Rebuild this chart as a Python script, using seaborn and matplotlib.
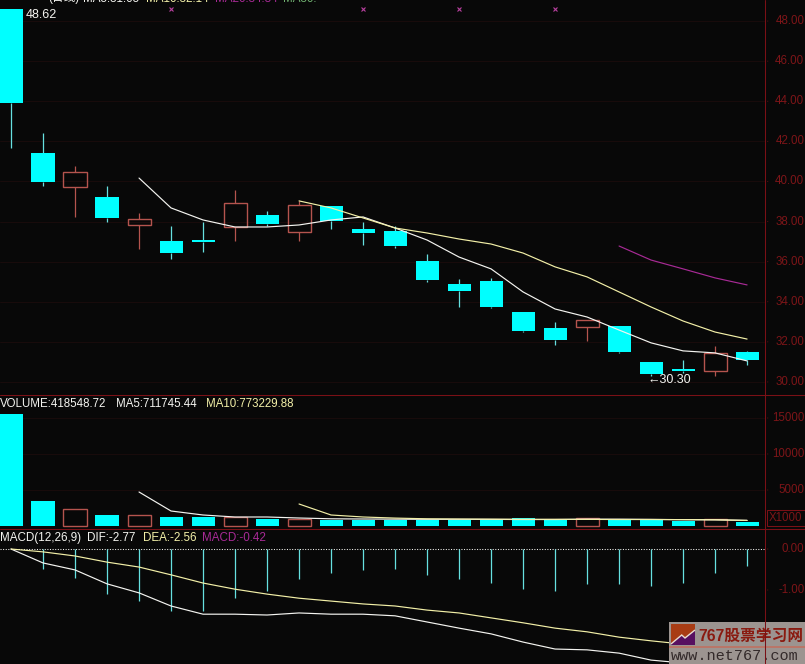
import matplotlib
matplotlib.use("Agg")
import matplotlib.pyplot as plt
from matplotlib.lines import Line2D
from matplotlib.patches import Polygon, Rectangle
import numpy as np
import pandas as pd
import seaborn as sns

# candles, oldest first
opens = [48.62, 41.42, 39.70, 39.23, 37.85, 37.03, 37.08, 37.73, 38.33, 37.46, 38.78, 37.63,
         37.53, 36.03, 34.89, 35.04, 33.49, 32.69, 32.74, 32.79, 31.00, 30.60, 30.55, 31.50]
closes = [43.90, 39.98, 40.45, 38.18, 38.15, 36.43, 36.98, 38.93, 37.88, 38.83, 38.03, 37.43,
          36.78, 35.09, 34.54, 33.74, 32.54, 32.09, 33.09, 31.50, 30.40, 30.55, 31.45, 31.10]
highs = [48.62, 42.42, 40.77, 39.78, 38.43, 37.78, 37.98, 39.58, 38.53, 39.03, 38.78, 37.98,
         37.78, 36.38, 35.14, 35.19, 33.49, 32.99, 33.09, 32.79, 31.00, 31.10, 31.80, 31.55]
lows = [41.67, 39.78, 38.23, 37.98, 36.63, 36.13, 36.48, 37.03, 37.78, 37.03, 37.63, 36.83,
        36.68, 34.99, 33.74, 33.69, 32.49, 31.85, 32.04, 31.45, 30.30, 30.45, 30.30, 30.85]

ma5 = [40.17, 38.68, 38.08, 37.73, 37.73, 37.83, 38.08, 38.23, 37.68, 37.08,
       36.23, 35.64, 34.49, 33.64, 33.24, 32.59, 31.95, 31.55, 31.45, 31.05]
ma10 = [39.03, 38.68, 38.18, 37.68, 37.43, 37.13, 36.88, 36.43, 35.74, 35.24,
        34.49, 33.74, 33.04, 32.49, 32.14]
ma20 = [36.78, 36.08, 35.64, 35.19, 34.84]

volume = [15560, 3500, 2380, 1540, 1540, 1260, 1260, 1260, 980, 980, 840, 840,
          840, 840, 840, 840, 1050, 840, 1050, 840, 840, 700, 980, 520]
vol_ma5 = [4722, 2083, 1528, 1250, 1250, 1111, 1000, 972, 950, 930,
           930, 920, 900, 900, 950, 950, 920, 880, 860, 780]
vol_ma10 = [3055, 1528, 1250, 1100, 1000, 970, 950, 930, 930, 920,
            900, 900, 880, 860, 775]

macd = [0.0, -0.49, -0.71, -1.10, -1.27, -1.51, -1.51, -1.20, -1.02, -0.73, -0.59, -0.51,
        -0.49, -0.63, -0.73, -0.83, -0.98, -1.02, -0.85, -0.85, -0.90, -0.83, -0.59, -0.42]
dif = [0.0, -0.34, -0.51, -0.85, -1.07, -1.39, -1.59, -1.59, -1.61, -1.56, -1.59, -1.59,
       -1.63, -1.78, -1.93, -2.07, -2.27, -2.44, -2.46, -2.54, -2.71, -2.78, -2.76, -2.77]
dea = [0.0, -0.07, -0.17, -0.32, -0.44, -0.63, -0.83, -0.98, -1.10, -1.20, -1.27, -1.34,
       -1.39, -1.49, -1.56, -1.68, -1.80, -1.93, -2.02, -2.15, -2.24, -2.32, -2.44, -2.56]

price_ticks = [30, 32, 34, 36, 38, 40, 42, 44, 46, 48]
vol_ticks = [5000, 10000, 15000]
macd_ticks = [0, -1]
signal_marks = [5, 11, 14, 17]

BG = "#080808"
CYAN = "#00ffff"
WICK = "#66e0e0"
RED = "#b5544e"
AXIS = "#7a1016"
GRID = "#180b0b"
LABEL = "#7d1518"
WHITE = "#f4f4f0"
YELLOW = "#f3f0a8"
PURPLE = "#a82a96"
THIN = 0.75

W, H = 805, 664
AXIS_X = 765

sns.set_style("dark", {"axes.facecolor": BG, "figure.facecolor": BG})
plt.rcParams["font.family"] = ["Liberation Sans", "Noto Sans CJK SC", "DejaVu Sans"]

fig = plt.figure(figsize=(W / 100, H / 100), dpi=100)


def panel(top, bottom, ylim):
    ax = fig.add_axes([0, 1 - bottom / H, AXIS_X / W, (bottom - top) / H])
    ax.set_xlim(-0.344, 23.56)
    ax.set_ylim(*ylim)
    ax.set_xticks([])
    ax.set_yticks([])
    for spine in ax.spines.values():
        spine.set_visible(False)
    return ax


def right_labels(ax, ticks, fmt, grid=True):
    for t in ticks:
        if grid:
            ax.axhline(t, color=GRID, lw=THIN, zorder=0)
        ax.annotate(fmt(t), xy=(1, t), xycoords=("axes fraction", "data"), xytext=(28.3, 0),
                    textcoords="offset points", ha="right", va="center", color=LABEL,
                    fontsize=8.3, annotation_clip=False)
        ax.annotate("", xy=(1, t), xycoords=("axes fraction", "data"), xytext=(4, 0),
                    textcoords="offset points", annotation_clip=False,
                    arrowprops=dict(arrowstyle="-", color=AXIS, lw=THIN))


def ma_line(ax, values, color):
    start = len(opens) - len(values)
    df = pd.DataFrame({"i": np.arange(start, len(opens)), "v": values})
    sns.lineplot(data=df, x="i", y="v", ax=ax, color=color, lw=THIN + 0.1, zorder=4)
    ax.set_xlabel("")
    ax.set_ylabel("")


def header(px, py, text, color, size=8.4):
    fig.text(px / W, 1 - py / H, text, color=color, fontsize=size, va="center", ha="left")


x = np.arange(len(opens))
up = np.array(closes) >= np.array(opens)

# price panel
ax1 = panel(0, 395, (29.35, 49.05))
right_labels(ax1, price_ticks, lambda t: f"{t:.2f}")
for i in x:
    low_body, high_body = sorted((opens[i], closes[i]))
    color = RED if up[i] else WICK
    ax1.vlines(i, lows[i], low_body, color=color, lw=0.9, zorder=2)
    ax1.vlines(i, high_body, highs[i], color=color, lw=0.9, zorder=2)
    if up[i]:
        ax1.add_patch(Rectangle((i - 0.36, low_body), 0.72, high_body - low_body,
                                fc="none", ec=RED, lw=1, zorder=3))
    else:
        ax1.add_patch(Rectangle((i - 0.36, low_body), 0.72, max(high_body - low_body, 0.1),
                                fc=CYAN, ec="none", zorder=3))
ma_line(ax1, ma5, WHITE)
ma_line(ax1, ma10, YELLOW)
ma_line(ax1, ma20, PURPLE)
ax1.set_xlim(-0.344, 23.56)
ax1.set_ylim(29.35, 49.05)
ax1.plot(signal_marks, [highs[0]] * len(signal_marks), ls="none", marker="x", ms=3.2, mew=0.8, color="#b8409f")
ax1.text(0.47, 48.30, "48.62", color=WHITE, fontsize=9, ha="left", va="center")
ax1.text(19.88, 30.10, "←30.30", color=WHITE, fontsize=9, ha="left", va="center")

# cropped header strip, only the feet of the glyphs show in the reference
fig.text(48 / W, 1 - 1.5 / H, "(日线)", color=WHITE, fontsize=8.4, va="baseline", ha="left")
fig.text(83 / W, 1 - 1.5 / H, "MA5:31.05", color=WHITE, fontsize=8.4, va="baseline", ha="left")
fig.text(146 / W, 1 - 1.5 / H, "MA10:32.14", color=YELLOW, fontsize=8.4, va="baseline", ha="left")
fig.text(215 / W, 1 - 1.5 / H, "MA20:34.84", color=PURPLE, fontsize=8.4, va="baseline", ha="left")
fig.text(283 / W, 1 - 1.5 / H, "MA30:", color="#6fae6f", fontsize=8.4, va="baseline", ha="left")

# volume panel
ax2 = panel(395, 529, (-417, 18194))
right_labels(ax2, vol_ticks, lambda t: f"{t}")
for i in x:
    if up[i]:
        ax2.add_patch(Rectangle((i - 0.36, 0), 0.72, volume[i], fc="none", ec=RED, lw=1, zorder=3))
    else:
        ax2.bar(i, volume[i], width=0.72, color=CYAN, edgecolor="none", zorder=3)
ma_line(ax2, vol_ma5, WHITE)
ma_line(ax2, vol_ma10, YELLOW)
ax2.set_xlim(-0.344, 23.56)
ax2.set_ylim(-417, 18194)
header(0, 404, "VOLUME:418548.72", WHITE, 8.3)
header(116, 404, "MA5:711745.44", WHITE, 8.3)
header(206, 404, "MA10:773229.88", YELLOW, 8.3)
fig.add_artist(Rectangle((767 / W, 1 - 526 / H), 38 / W, 16 / H, fc="none", ec=AXIS, lw=THIN,
                         transform=fig.transFigure))
fig.text(769 / W, 1 - 518 / H, "X1000", color=LABEL, fontsize=8.3, va="center", ha="left")

# macd panel
ax3 = panel(529, 664, (-2.805, 0.488))
right_labels(ax3, macd_ticks, lambda t: f"{t:.2f}", grid=False)
ax3.axhline(0, color=WHITE, lw=THIN, ls=(0, (1, 1.5)), zorder=2)
ax3.vlines(x[1:], macd[1:], 0, color=WICK, lw=0.9, zorder=3)
ma_line(ax3, dif, WHITE)
ma_line(ax3, dea, YELLOW)
ax3.set_xlim(-0.344, 23.56)
ax3.set_ylim(-2.805, 0.488)
header(0, 538, "MACD(12,26,9)", WHITE)
header(87, 538, "DIF:-2.77", WHITE)
header(143, 538, "DEA:-2.56", YELLOW)
header(202, 538, "MACD:-0.42", PURPLE)

# frame lines run across the label column too
for py in (395, 529):
    fig.add_artist(Line2D([0, 1], [1 - py / H] * 2, color=AXIS, lw=THIN))
fig.add_artist(Line2D([AXIS_X / W] * 2, [0, 1], color=AXIS, lw=THIN))

# watermark
box = fig.add_axes([669 / W, 0, 136 / W, 42 / H])
box.set_facecolor("#9c9490")
box.set_xticks([])
box.set_yticks([])
for spine in box.spines.values():
    spine.set_visible(False)
box.set_xlim(0, 136)
box.set_ylim(42, 0)
box.add_patch(Rectangle((2, 2), 24, 21, fc="#a83c14", ec="none"))
logo_line = [(2, 22), (12.7, 13), (16, 16), (26, 8)]
box.add_patch(Polygon(logo_line + [(26, 23), (2, 23)], fc="#571060", ec="none"))
box.add_patch(Polygon(logo_line, closed=False, fc="none", ec="#e8dcd0", lw=1))
box.text(29, 14, "767股票学习网", color="#8a1a10", fontsize=11.3, fontweight="bold", va="center", ha="left")
box.plot([0, 136], [25, 25], color="#c07060", lw=1.2)
box.text(2, 34, "www.net767.com", color="#332a2a", fontsize=11, family="Liberation Mono", va="center", ha="left")

fig.savefig("out.png", dpi=100, facecolor=BG)
